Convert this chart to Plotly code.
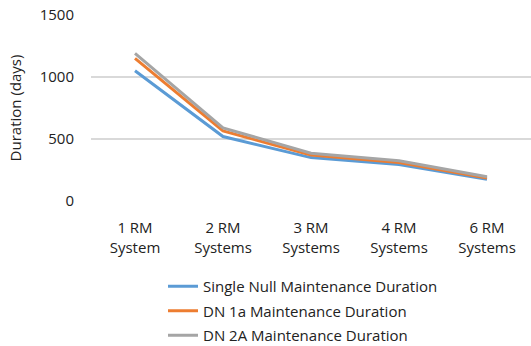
import plotly.graph_objects as go

# Number of RM systems vs. maintenance duration
categories = ["1 RM<br>System", "2 RM<br>Systems", "3 RM<br>Systems", "4 RM<br>Systems", "6 RM<br>Systems"]
single_null = [1050, 520, 350, 295, 175]
dn_1a = [1150, 565, 370, 310, 185]
dn_2a = [1190, 590, 385, 325, 195]

series_names = [
    "Single Null Maintenance Duration",
    "DN 1a Maintenance Duration",
    "DN 2A Maintenance Duration",
]
series_values = [single_null, dn_1a, dn_2a]
series_colors = ["#5B9BD5", "#ED7D31", "#A5A5A5"]

W, H = 531, 346
M_L, M_R, M_T, M_B = 91, 0, 15, 145
plot_h = H - M_T - M_B
FAMILY = "'Open Sans', sans-serif"

fig = go.Figure()
for name, vals, col in zip(series_names, series_values, series_colors):
    fig.add_trace(go.Scatter(
        x=categories, y=vals, name=name, mode="lines",
        line=dict(color=col, width=3),
        legendgroup=name,
    ))

legend_top_px = 270
legend_left_px = 163
fig.update_layout(
    width=W, height=H,
    margin=dict(l=M_L, r=M_R, t=M_T, b=M_B, autoexpand=False),
    paper_bgcolor="white", plot_bgcolor="white",
    font=dict(family=FAMILY, size=15, color="#222"),
    showlegend=True,
    legend=dict(
        orientation="v",
        x=(legend_left_px - M_L) / (W - M_L - M_R), xanchor="left",
        y=-(legend_top_px - (M_T + plot_h)) / plot_h, yanchor="top",
        tracegroupgap=2,
        font=dict(family=FAMILY, size=15, color="#222"),
        bgcolor="rgba(0,0,0,0)",
    ),
    xaxis=dict(
        type="category", range=[-0.5, 4.5],
        showgrid=False, showline=False, zeroline=False,
        ticks="", ticklabelstandoff=16, automargin=False,
    ),
    yaxis=dict(
        range=[0, 1500], tickvals=[0, 500, 1000, 1500],
        showgrid=True, gridcolor="#D9D9D9", gridwidth=1.5,
        zeroline=False, showline=False, ticks="",
        ticklabelstandoff=16, automargin=False,
        title=dict(text="Duration (days)", standoff=14, font=dict(size=15)),
    ),
)

fig.write_html("out.html")
